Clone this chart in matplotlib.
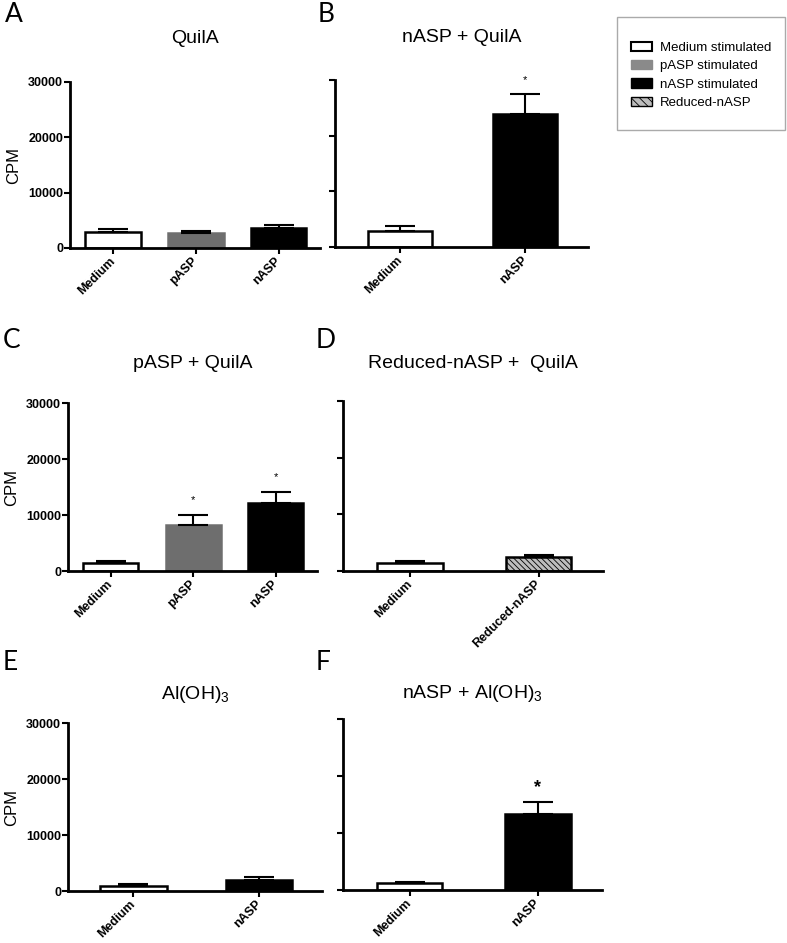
import matplotlib
matplotlib.use('Agg')
import matplotlib.pyplot as plt
from matplotlib.patches import Patch, Rectangle

plt.rcParams['font.family'] = ['Liberation Sans', 'DejaVu Sans']
plt.rcParams['hatch.linewidth'] = 0.6

# Data (CPM means and SEM)
a_labels = ['Medium', 'pASP', 'nASP']
a_means = [2900, 2750, 3650]
a_errs = [500, 350, 450]

b_labels = ['Medium', 'nASP']
b_means = [2950, 23900]
b_errs = [850, 3500]

c_labels = ['Medium', 'pASP', 'nASP']
c_means = [1500, 8250, 12100]
c_errs = [350, 1800, 2000]

d_labels = ['Medium', 'Reduced-nASP']
d_means = [1500, 2450]
d_errs = [300, 400]

e_labels = ['Medium', 'nASP']
e_means = [900, 2050]
e_errs = [300, 500]

f_labels = ['Medium', 'nASP']
f_means = [1150, 13300]
f_errs = [250, 2100]

# bar style per stimulus
styles = {
    'Medium': dict(facecolor='white', edgecolor='black', hatch=None),
    'pASP': dict(facecolor='#6e6e6e', edgecolor='#6e6e6e', hatch=None),
    'nASP': dict(facecolor='black', edgecolor='black', hatch=None),
    'Reduced-nASP': dict(facecolor='#bdbdbd', edgecolor='black', hatch='\\\\\\\\\\\\'),
}

W, H = 787, 943
fig = plt.figure(figsize=(W / 100, H / 100), dpi=100)


def axes_px(left, right, top, bottom):
    return fig.add_axes([left / W, 1 - bottom / H, (right - left) / W, (bottom - top) / H])


def panel(ax, labels, means, errs, title, stars, show_y, width, tpad, star_size=8, star_bold=False):
    n = len(labels)
    x = list(range(n))
    for i, lab in enumerate(labels):
        st = styles[lab]
        ax.bar(x[i], means[i], width=width, facecolor=st['facecolor'], edgecolor=st['edgecolor'],
               hatch=st['hatch'], linewidth=1.8, zorder=2)
        ax.errorbar(x[i], means[i], yerr=[[0], [errs[i]]], fmt='none', ecolor='black',
                    elinewidth=1.5, capsize=11, capthick=1.5, zorder=3)
        if stars[i]:
            ax.text(x[i], means[i] + errs[i] + 2600, '*', ha='center', va='center',
                    fontsize=star_size, fontweight='bold' if star_bold else 'normal')
    ax.set_xlim(-0.52, n - 0.5)
    ax.set_ylim(0, 30000)
    ax.set_yticks([0, 10000, 20000, 30000])
    ax.set_xticks(x)
    ax.set_xticklabels(labels, rotation=45, ha='right', va='center', rotation_mode='anchor',
                       fontsize=9, fontweight='bold')
    if show_y:
        ax.set_yticklabels(['0', '10000', '20000', '30000'], fontsize=9, fontweight='bold')
        ax.set_ylabel('CPM', fontsize=12, labelpad=5)
    else:
        ax.set_yticklabels([])
    for s in ['top', 'right']:
        ax.spines[s].set_visible(False)
    for s in ['left', 'bottom']:
        ax.spines[s].set_linewidth(2)
    ax.tick_params(direction='out', length=4, width=1.5, pad=1)
    ax.tick_params(axis='x', pad=4)
    ax.set_title(title, fontsize=14, pad=tpad)
    return ax


axA = axes_px(70, 320, 82, 248)
panel(axA, a_labels, a_means, a_errs, 'QuilA', [False, False, False], True, 0.67, 28)
axB = axes_px(335, 588, 80, 247)
panel(axB, b_labels, b_means, b_errs, 'nASP + QuilA', [False, True], False, 0.51, 27)
axC = axes_px(68, 317, 403, 571)
panel(axC, c_labels, c_means, c_errs, 'pASP + QuilA', [False, True, True], True, 0.67, 25)
axD = axes_px(343, 603, 401, 571)
panel(axD, d_labels, d_means, d_errs, 'Reduced-nASP +  QuilA', [False, False], False, 0.51, 24)
axE = axes_px(68, 322, 723, 891)
panel(axE, e_labels, e_means, e_errs, 'Al(OH)$_\\mathregular{3}$', [False, False], True, 0.53, 17)
axF = axes_px(343, 602, 719, 890)
panel(axF, f_labels, f_means, f_errs, 'nASP + Al(OH)$_\\mathregular{3}$', [False, True], False, 0.51, 15,
      star_size=13, star_bold=True)

# panel letters
letters = [('A', 5, 15), ('B', 318, 15), ('C', 3, 340), ('D', 316, 340), ('E', 3, 663), ('F', 316, 663)]
for txt, px, py in letters:
    fig.text(px / W, 1 - py / H, txt, fontsize=19, family='Lato', va='center', ha='left')

# legend box
fig.add_artist(Rectangle((617 / W, 1 - 130 / H), (785 - 617) / W, (130 - 17) / H,
                         transform=fig.transFigure, facecolor='white', edgecolor='#aaaaaa', linewidth=1))
handles = [
    Patch(facecolor='white', edgecolor='black', linewidth=1.5, label='Medium stimulated'),
    Patch(facecolor='#8a8a8a', edgecolor='#8a8a8a', label='pASP stimulated'),
    Patch(facecolor='black', edgecolor='black', label='nASP stimulated'),
    Patch(facecolor='#bdbdbd', edgecolor='black', hatch='\\\\\\\\', label='Reduced-nASP'),
]
fig.legend(handles=handles, loc='upper left', bbox_to_anchor=(631 / W, 1 - 42 / H), frameon=False,
           fontsize=9.5, handlelength=1.6, handleheight=0.7, handletextpad=0.6,
           labelspacing=0.45, borderpad=0, borderaxespad=0)

plt.savefig('out.png', dpi=100)
plt.close()
